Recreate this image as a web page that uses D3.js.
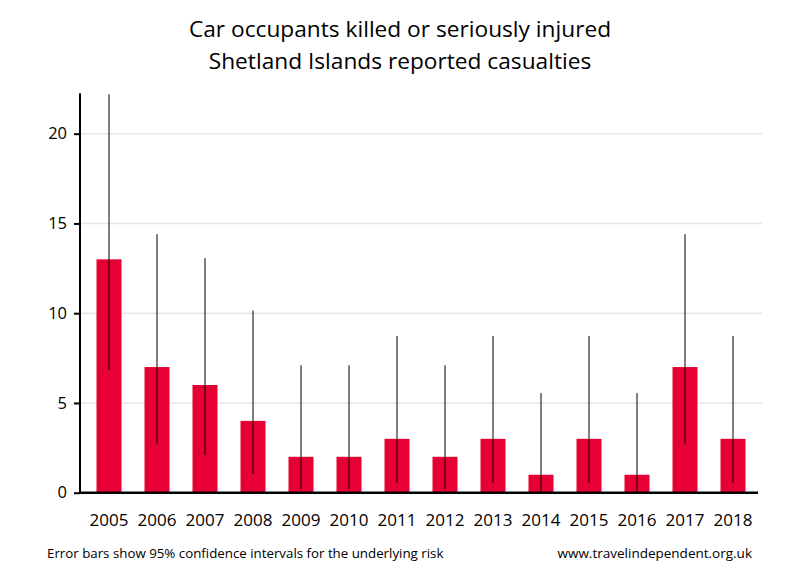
<!DOCTYPE html>
<html><head><meta charset="utf-8">
<script src="https://cdn.jsdelivr.net/npm/d3@7"></script>
<style>body{margin:0;background:#fff;} text{font-family:"Open Sans",sans-serif;}</style>
</head><body><svg id="c" width="800" height="580"></svg>
<script>
const years = ["2005","2006","2007","2008","2009","2010","2011","2012","2013","2014","2015","2016","2017","2018"];
const values = [13,7,6,4,2,2,3,2,3,1,3,1,7,3];
const ciLow = [6.85,2.75,2.1,1.05,0.2,0.2,0.55,0.2,0.55,0.03,0.55,0.03,2.75,0.55];
const ciHigh = [22.2,14.4,13.07,10.15,7.1,7.1,8.73,7.1,8.73,5.55,8.73,5.55,14.4,8.73];
const yTicks = [0,5,10,15,20];
const titleLines = ["Car occupants killed or seriously injured","Shetland Islands reported casualties"];
const footLeft = "Error bars show 95% confidence intervals for the underlying risk";
const footRight = "www.travelindependent.org.uk";

const svg = d3.select("#c");
const x = d3.scaleBand().domain(years).range([85,757]).padding(0);
const y = d3.scaleLinear().domain([0,22.25]).range([492.7,93.3]);
const bw = 25;

svg.append("g").selectAll("line").data(yTicks.filter(d=>d>0)).join("line")
  .attr("x1",81).attr("x2",762).attr("y1",d=>y(d)).attr("y2",d=>y(d))
  .attr("stroke","#e6e6e6").attr("stroke-width",1.5);

svg.append("g").selectAll("rect").data(years).join("rect")
  .attr("x",(d)=>x(d)+x.bandwidth()/2-bw/2).attr("width",bw)
  .attr("y",(d,i)=>y(values[i])).attr("height",(d,i)=>y(0)-y(values[i]))
  .attr("fill","#E60033");

svg.append("g").selectAll("line").data(years).join("line")
  .attr("x1",d=>x(d)+x.bandwidth()/2).attr("x2",d=>x(d)+x.bandwidth()/2)
  .attr("y1",(d,i)=>y(ciLow[i])).attr("y2",(d,i)=>y(ciHigh[i]))
  .attr("stroke","#000").attr("stroke-width",1);

// y axis
const ya = svg.append("g").attr("transform","translate(80,0)")
  .call(d3.axisLeft(y).tickValues(yTicks).tickSize(6).tickPadding(7).tickFormat(d3.format("d")));
ya.select(".domain").remove();
ya.selectAll(".tick line").attr("stroke","#000").attr("stroke-width",2);
ya.selectAll(".tick text").attr("font-size",16.5).attr("font-family","'Open Sans',sans-serif").attr("fill","#000");
svg.append("line").attr("x1",80).attr("x2",80).attr("y1",93.3).attr("y2",y(0)+1).attr("stroke","#000").attr("stroke-width",2);

// x axis
const xa = svg.append("g").attr("transform",`translate(0,${y(0)})`)
  .call(d3.axisBottom(x).tickSize(0).tickPadding(21));
xa.select(".domain").remove();
xa.selectAll(".tick text").attr("font-size",17).attr("font-family","'Open Sans',sans-serif").attr("fill","#000");
svg.append("line").attr("x1",79).attr("x2",758).attr("y1",y(0)).attr("y2",y(0)).attr("stroke","#000").attr("stroke-width",2.5);

svg.append("g").selectAll("text").data(titleLines).join("text")
  .attr("x",400).attr("y",(d,i)=>37+i*32).attr("text-anchor","middle")
  .attr("font-size",22.7).attr("fill","#000").text(d=>d);

svg.append("text").attr("x",47).attr("y",558).attr("font-size",13.3).attr("fill","#000").text(footLeft);
svg.append("text").attr("x",752).attr("y",558).attr("text-anchor","end").attr("font-size",13.5).attr("fill","#000").text(footRight);
</script></body></html>
